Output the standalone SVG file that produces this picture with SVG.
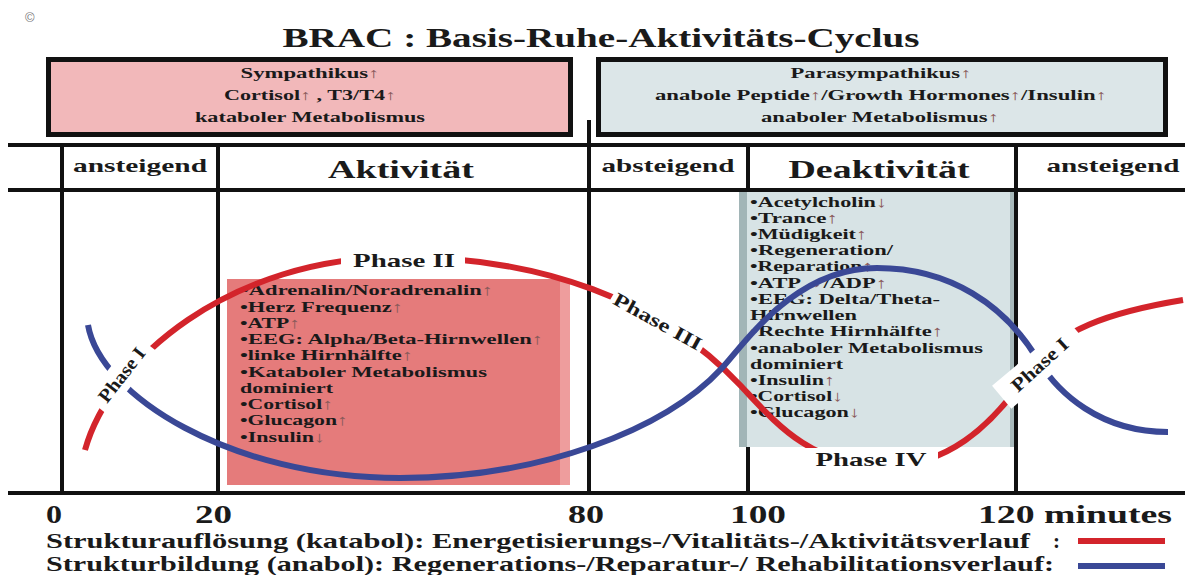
<svg xmlns="http://www.w3.org/2000/svg" width="1185" height="575" viewBox="0 0 1185 575">
<defs>
<style>
.t{font-family:"Liberation Serif","Times New Roman",serif;font-weight:bold;fill:#1a1a1a}
.c{text-anchor:middle}
.bx{font-size:14px}
.hd{font-size:19px}
.hd2{font-size:25px}
.li{font-size:15px}
.ph{font-size:19px}
.ax{font-size:26px}
.lg{font-size:21px}
.ar{fill:#8a5a5a;font-weight:normal}
.g{stroke:#111;stroke-width:4;fill:none}
.red{stroke:#d3242b;stroke-width:6;fill:none}
.blue{stroke:#3a4896;stroke-width:6;fill:none}
.wb{fill:#fff}
</style>
</defs>
<rect x="0" y="0" width="1185" height="575" fill="#fff"/>
<text x="25" y="22" font-family="Liberation Sans, Arial, sans-serif" font-size="13" fill="#777">©</text>
<g id="title">
<text class="t c" x="601" y="47" font-size="28" textLength="637" lengthAdjust="spacingAndGlyphs">BRAC : Basis-Ruhe-Aktivitäts-Cyclus</text>
</g>
<g id="box-sympathikus">
<rect x="48.5" y="59.5" width="522" height="75" fill="#f2b8ba" stroke="#111" stroke-width="5"/>
<text class="t c bx" x="310" y="78" textLength="139" lengthAdjust="spacingAndGlyphs">Sympathikus<tspan class="ar">↑</tspan></text>
<text class="t c bx" x="310" y="100" textLength="172" lengthAdjust="spacingAndGlyphs">Cortisol<tspan class="ar">↑</tspan> , T3/T4<tspan class="ar">↑</tspan></text>
<text class="t c bx" x="310" y="122" textLength="230" lengthAdjust="spacingAndGlyphs">kataboler Metabolismus</text>
</g>
<g id="box-parasympathikus">
<rect x="598.5" y="59.5" width="567" height="75" fill="#dce6e8" stroke="#111" stroke-width="5"/>
<text class="t c bx" x="881" y="78" textLength="181" lengthAdjust="spacingAndGlyphs">Parasympathikus<tspan class="ar">↑</tspan></text>
<text class="t c bx" x="881" y="100" textLength="452" lengthAdjust="spacingAndGlyphs">anabole Peptide<tspan class="ar">↑</tspan>/Growth Hormones<tspan class="ar">↑</tspan>/Insulin<tspan class="ar">↑</tspan></text>
<text class="t c bx" x="880" y="122" textLength="238" lengthAdjust="spacingAndGlyphs">anaboler Metabolismus<tspan class="ar">↑</tspan></text>
</g>
<g id="grid">
<line class="g" x1="8" y1="145" x2="1185" y2="145"/>
<line class="g" x1="8" y1="190" x2="1185" y2="190"/>
<line class="g" x1="8" y1="493" x2="1185" y2="493"/>
<line class="g" x1="62" y1="145" x2="62" y2="493"/>
<line class="g" x1="218" y1="145" x2="218" y2="493"/>
<line class="g" x1="589" y1="120" x2="589" y2="493"/>
<line class="g" x1="748" y1="145" x2="748" y2="493"/>
<line class="g" x1="1016" y1="145" x2="1016" y2="493"/>
</g>
<g id="headers">
<text class="t c hd" x="140" y="172" textLength="134" lengthAdjust="spacingAndGlyphs">ansteigend</text>
<text class="t c hd2" x="401" y="178" textLength="146" lengthAdjust="spacingAndGlyphs">Aktivität</text>
<text class="t c hd" x="668" y="172" textLength="133" lengthAdjust="spacingAndGlyphs">absteigend</text>
<text class="t c hd2" x="879" y="178" textLength="181" lengthAdjust="spacingAndGlyphs">Deaktivität</text>
<text class="t c hd" x="1113" y="172" textLength="133" lengthAdjust="spacingAndGlyphs">ansteigend</text>
</g>
<g id="list-aktivitaet">
<rect x="227" y="279" width="343" height="206" fill="#e57b7b"/>
<rect x="560" y="279" width="10" height="206" fill="#ee9d9d"/>
<text class="t li" x="241" y="295" textLength="252" lengthAdjust="spacingAndGlyphs">•Adrenalin/Noradrenalin<tspan class="ar">↑</tspan></text>
<text class="t li" x="240" y="312" textLength="163" lengthAdjust="spacingAndGlyphs">•Herz Frequenz<tspan class="ar">↑</tspan></text>
<text class="t li" x="240" y="328" textLength="60" lengthAdjust="spacingAndGlyphs">•ATP<tspan class="ar">↑</tspan></text>
<text class="t li" x="240" y="344" textLength="303" lengthAdjust="spacingAndGlyphs">•EEG: Alpha/Beta-Hirnwellen<tspan class="ar">↑</tspan></text>
<text class="t li" x="240" y="360" textLength="173" lengthAdjust="spacingAndGlyphs">•linke Hirnhälfte<tspan class="ar">↑</tspan></text>
<text class="t li" x="240" y="377" textLength="247" lengthAdjust="spacingAndGlyphs">•Kataboler Metabolismus</text>
<text class="t li" x="240" y="393" textLength="93" lengthAdjust="spacingAndGlyphs">dominiert</text>
<text class="t li" x="240" y="409" textLength="93" lengthAdjust="spacingAndGlyphs">•Cortisol<tspan class="ar">↑</tspan></text>
<text class="t li" x="240" y="425" textLength="108" lengthAdjust="spacingAndGlyphs">•Glucagon<tspan class="ar">↑</tspan></text>
<text class="t li" x="240" y="442" textLength="85" lengthAdjust="spacingAndGlyphs">•Insulin<tspan class="ar">↓</tspan></text>
</g>
<g id="list-deaktivitaet">
<rect x="739" y="192" width="275" height="255" fill="#d7e3e5"/>
<rect x="739" y="192" width="8" height="255" fill="#a2b5b7"/>
<rect x="1010" y="192" width="4" height="255" fill="#a9babc"/>
<text class="t li" x="750" y="207" textLength="137" lengthAdjust="spacingAndGlyphs">•Acetylcholin<tspan class="ar">↓</tspan></text>
<text class="t li" x="750" y="223" textLength="88" lengthAdjust="spacingAndGlyphs">•Trance<tspan class="ar">↑</tspan></text>
<text class="t li" x="750" y="239" textLength="117" lengthAdjust="spacingAndGlyphs">•Müdigkeit<tspan class="ar">↑</tspan></text>
<text class="t li" x="750" y="255" textLength="143" lengthAdjust="spacingAndGlyphs">•Regeneration/</text>
<text class="t li" x="750" y="271" textLength="123" lengthAdjust="spacingAndGlyphs">•Reparation<tspan class="ar">↑</tspan></text>
<text class="t li" x="750" y="288" textLength="137" lengthAdjust="spacingAndGlyphs">•ATP<tspan class="ar">→</tspan>/ADP<tspan class="ar">↑</tspan></text>
<text class="t li" x="750" y="304" textLength="190" lengthAdjust="spacingAndGlyphs">•EEG: Delta/Theta-</text>
<text class="t li" x="750" y="320" textLength="107" lengthAdjust="spacingAndGlyphs">Hirnwellen</text>
<text class="t li" x="750" y="336" textLength="193" lengthAdjust="spacingAndGlyphs">•Rechte Hirnhälfte<tspan class="ar">↑</tspan></text>
<text class="t li" x="750" y="353" textLength="233" lengthAdjust="spacingAndGlyphs">•anaboler Metabolismus</text>
<text class="t li" x="750" y="369" textLength="93" lengthAdjust="spacingAndGlyphs">dominiert</text>
<text class="t li" x="750" y="385" textLength="85" lengthAdjust="spacingAndGlyphs">•Insulin<tspan class="ar">↑</tspan></text>
<text class="t li" x="750" y="401" textLength="93" lengthAdjust="spacingAndGlyphs">•Cortisol<tspan class="ar">↓</tspan></text>
<text class="t li" x="750" y="417" textLength="110" lengthAdjust="spacingAndGlyphs">•Glucagon<tspan class="ar">↓</tspan></text>
</g>
<g id="connectors">
<path id="curve-katabol" class="red" d="M85,450 C110,360 230,257 400,257 C540,257 660,300 740,385 C775,422 810,466 885,466 C945,466 990,430 1030,370 C1057,330 1110,312 1183,300"/>
<path id="curve-anabol" class="blue" d="M88,325 C100,395 230,478 400,478 C540,478 665,430 722,368 C745,343 795,268 877,268 C950,268 1005,305 1038,360 C1058,393 1100,432 1168,432"/>
</g>
<g id="phase-1-left">
<rect class="wb" x="-40" y="-14" width="80" height="28" transform="translate(122,375) rotate(-52)"/>
<text class="t c" font-size="19" x="0" y="6" textLength="64" lengthAdjust="spacingAndGlyphs" transform="translate(122,375) rotate(-52)">Phase I</text>
</g>
<g id="phase-2">
<rect class="wb" x="341" y="246" width="124" height="30"/>
<text class="t c ph" x="404" y="267" textLength="102" lengthAdjust="spacingAndGlyphs">Phase II</text>
</g>
<g id="phase-3">
<rect class="wb" x="-52" y="-14" width="104" height="28" transform="translate(658,321) rotate(30)"/>
<text class="t c ph" x="0" y="7" textLength="98" lengthAdjust="spacingAndGlyphs" transform="translate(658,321) rotate(29)">Phase III</text>
</g>
<g id="phase-4">
<rect class="wb" x="804" y="448" width="134" height="27"/>
<text class="t c ph" x="871" y="466" textLength="111" lengthAdjust="spacingAndGlyphs">Phase IV</text>
</g>
<g id="phase-1-right">
<rect class="wb" x="-50" y="-15" width="100" height="30" transform="translate(1040,365) rotate(-40)"/>
<text class="t c" font-size="19" x="0" y="6" textLength="70" lengthAdjust="spacingAndGlyphs" transform="translate(1040,365) rotate(-42)">Phase I</text>
</g>
<g id="axis">
<text class="t ax" x="46" y="523" textLength="16" lengthAdjust="spacingAndGlyphs">0</text>
<text class="t ax" x="195" y="523" textLength="37" lengthAdjust="spacingAndGlyphs">20</text>
<text class="t ax" x="568" y="523" textLength="36" lengthAdjust="spacingAndGlyphs">80</text>
<text class="t ax" x="730" y="523" textLength="56" lengthAdjust="spacingAndGlyphs">100</text>
<text class="t ax" x="978" y="523" textLength="194" lengthAdjust="spacingAndGlyphs">120 minutes</text>
</g>
<g id="legend">
<text class="t lg" x="46" y="548" textLength="984" lengthAdjust="spacingAndGlyphs">Strukturauflösung (katabol): Energetisierungs-/Vitalitäts-/Aktivitätsverlauf</text>
<text class="t lg" x="1053" y="548">:</text>
<line x1="1078" y1="541" x2="1165" y2="541" stroke="#d3242b" stroke-width="6"/>
<text class="t lg" x="46" y="571" textLength="1008" lengthAdjust="spacingAndGlyphs">Strukturbildung (anabol): Regenerations-/Reparatur-/ Rehabilitationsverlauf:</text>
<line x1="1078" y1="566" x2="1165" y2="566" stroke="#3a4896" stroke-width="6"/>
</g>
</svg>
